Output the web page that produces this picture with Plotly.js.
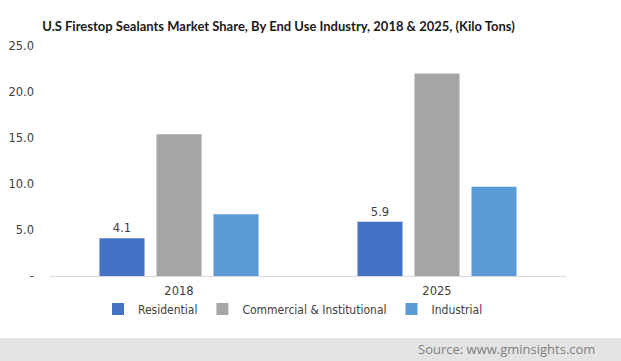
<!DOCTYPE html>
<html><head><meta charset="utf-8">
<script src="https://cdn.plot.ly/plotly-3.0.1.min.js"></script>
<style>html,body{margin:0;padding:0;background:#fff}#chart{width:621px;height:361px}</style>
</head><body><div id="chart"></div>
<script>
const years = ['2018', '2025'];
const seriesNames = ['Residential', 'Commercial & Institutional', 'Industrial'];
const residential = [4.1, 5.9];
const commercial = [15.4, 22.0];
const industrial = [6.7, 9.7];
const tickVals = [0, 5, 10, 15, 20, 25];
const tickText = ['-', '5.0', '10.0', '15.0', '20.0', '25.0'];
const colors = ['#4472C4', '#A5A5A5', '#5B9BD5'];
const tickFont = {family: 'DejaVu Sans, Verdana, sans-serif', size: 11.5, color: '#404040'};
const legendFont = {family: 'DejaVu Sans Condensed, DejaVu Sans, sans-serif', size: 12, color: '#404040'};

const traces = [
  {type: 'bar', name: seriesNames[0], x: years, y: residential, marker: {color: colors[0]},
   text: residential.map(v => v.toFixed(1)), textposition: 'outside', cliponaxis: false,
   textfont: tickFont, hoverinfo: 'none'},
  {type: 'bar', name: seriesNames[1], x: years, y: commercial, marker: {color: colors[1]}, hoverinfo: 'none'},
  {type: 'bar', name: seriesNames[2], x: years, y: industrial, marker: {color: colors[2]}, hoverinfo: 'none'}
];

const layout = {
  width: 621, height: 361,
  margin: {l: 50, r: 55, t: 46, b: 85},
  paper_bgcolor: '#fff', plot_bgcolor: '#fff',
  barmode: 'group', bargap: 0.337, bargroupgap: 0.21,
  title: {text: 'U.S Firestop Sealants Market Share, By End Use Industry, 2018 & 2025, (Kilo Tons)',
          font: {family: 'Lato, sans-serif', size: 13, color: '#1a1a1a', weight: 'bold'},
          x: 0.068, xanchor: 'left', y: 0.926, yanchor: 'middle'},
  xaxis: {type: 'category', showgrid: false, showline: true, linecolor: '#d9d9d9', linewidth: 1,
          ticks: '', tickfont: tickFont, ticklabelstandoff: 4, zeroline: false},
  yaxis: {range: [0, 25], tickvals: tickVals, ticktext: tickText, showgrid: false, zeroline: false,
          showline: false, ticks: '', tickfont: tickFont, ticklabelstandoff: 15, fixedrange: true},
  showlegend: true,
  legend: {orientation: 'h', x: (293 - 50) / 516, xanchor: 'center', y: -(309 - 276) / 230, yanchor: 'middle',
           font: legendFont, traceorder: 'normal', itemwidth: 30, bgcolor: 'rgba(0,0,0,0)'},
  shapes: [{type: 'rect', xref: 'paper', yref: 'paper',
    x0: -50 / 516, x1: (621 - 50) / 516,
    y0: -(361 - 276) / 230, y1: -(338 - 276) / 230,
    line: {width: 0}, fillcolor: '#e4e4e4', layer: 'below'}],
  annotations: [{xref: 'paper', yref: 'paper', x: (597 - 50) / 516, y: -(349 - 276) / 230,
                 xanchor: 'right', yanchor: 'middle', showarrow: false,
                 text: 'Source: www.gminsights.com',
                 font: {family: 'Open Sans, sans-serif', size: 13, color: '#7f7f7f'}}]
};

Plotly.newPlot('chart', traces, layout, {staticPlot: true, displayModeBar: false});
</script></body></html>
